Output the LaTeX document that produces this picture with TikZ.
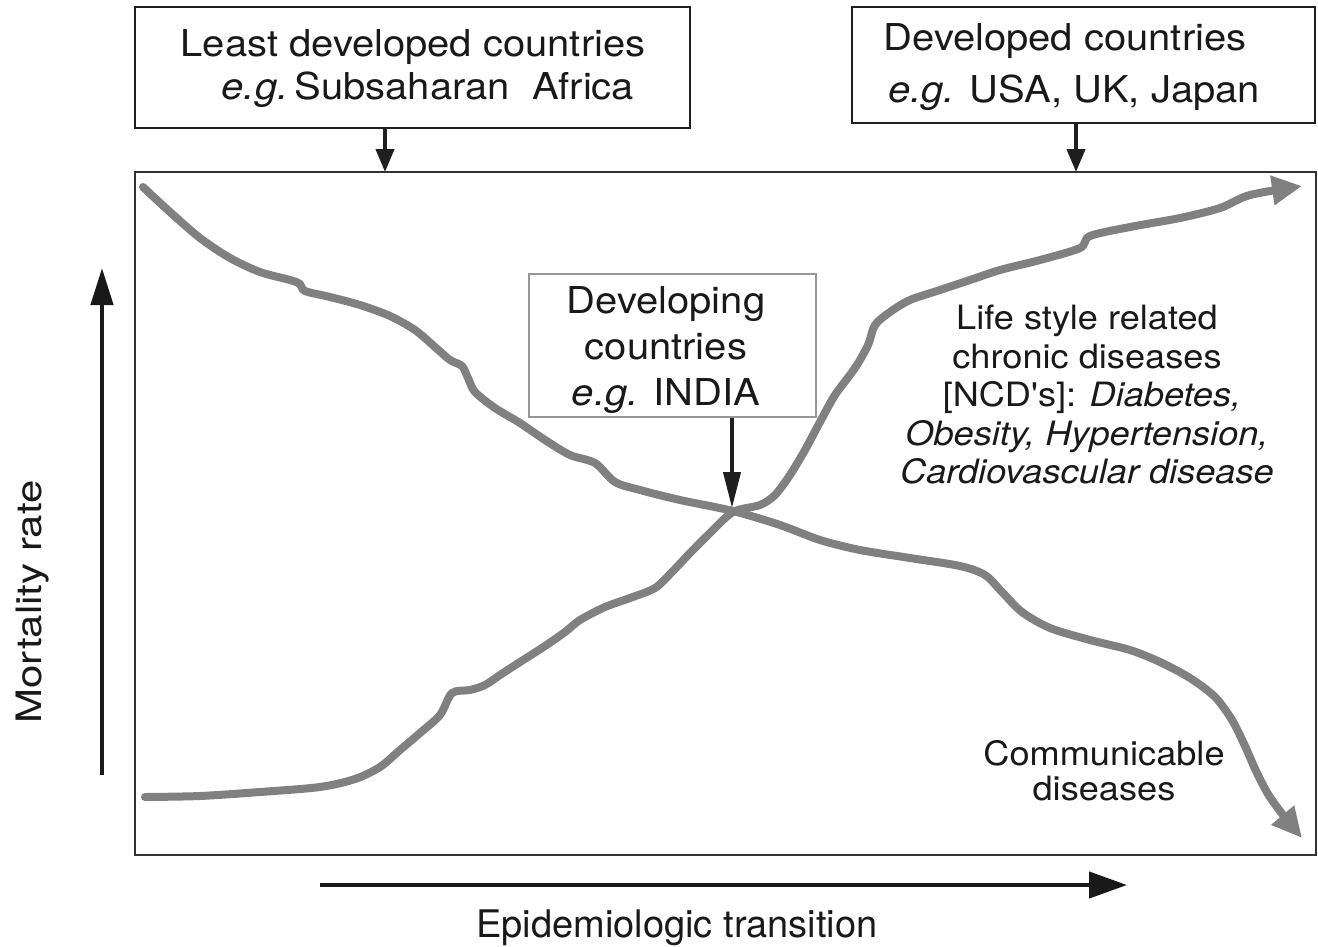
\documentclass[tikz,border=0pt]{standalone}
\usepackage{fontspec}
\setmainfont{TeX Gyre Heros}
\newfontfamily\wfont[FakeStretch=1.08]{TeX Gyre Heros}
\newfontfamily\mfont[FakeStretch=1.2]{TeX Gyre Heros}
\usetikzlibrary{arrows.meta}
\definecolor{curvegray}{RGB}{128,128,128}
\definecolor{framegray}{RGB}{50,50,50}
\definecolor{boxgray}{RGB}{150,150,150}
\begin{document}
\begin{tikzpicture}[x=1pt,y=-1pt,
  box/.style={draw=black!88, line width=1.8pt, inner sep=0pt},
  thinbox/.style={draw=boxgray, line width=1.3pt, inner sep=0pt},
  txt/.style={align=center, inner sep=0pt, text=black!90},
  curve/.style={draw=curvegray, line width=8pt, line cap=round, line join=round},
  ptr/.style={draw=black!88, line width=4pt, -{Triangle[length=23pt,width=18pt]}},
  longptr/.style={draw=black!88, line width=4pt, -{Triangle[length=36pt,width=17pt]}},
  axisv/.style={draw=black!90, line width=4.5pt, -{Triangle[length=37pt,width=22pt]}},
  axish/.style={draw=black!90, line width=4.5pt, -{Triangle[length=38pt,width=26pt]}},
]
\useasboundingbox (0,0) rectangle (1318,946);
\fill[white] (0,0) rectangle (1318,946);

% main frame
\node[draw=framegray, line width=2pt, minimum width=1181pt, minimum height=683pt, inner sep=0pt] (frame) at (725.5,513.5) {};

% top boxes
\node[box, minimum width=555pt, minimum height=121pt] (ldc) at (412.5,67.5) {};
\node[txt, anchor=north, font=\wfont\fontsize{37}{43}\selectfont] (ldct) at (413,29)
  {Least developed countries\\\hspace*{30pt}\textit{e.g.}\,Subsaharan\ \ Africa};

\node[box, minimum width=463pt, minimum height=116pt] (dc) at (1083.5,65) {};
\node[txt, anchor=north, font=\wfont\fontsize{37}{52}\selectfont] (dct) at (1065,23)
  {Developed countries\\\hspace*{18pt}\textit{e.g.} USA, UK, Japan};

\node[thinbox, minimum width=287pt, minimum height=143pt] (ing) at (672.5,345.5) {};
\node[txt, anchor=north, font=\wfont\fontsize{37}{46}\selectfont] (ingt) at (666,286)
  {Developing\\countries\\\textit{e.g.} INDIA};

% pointer arrows
\coordinate (ldctip) at (385,172);
\coordinate (dctip) at (1076,172);
\coordinate (cross) at (732,508);
\draw[ptr] (ldc.south -| ldctip) -- (ldctip);
\draw[ptr] (dc.south -| dctip) -- (dctip);
\draw[longptr] (ing.south -| cross) -- (cross);

% curves
\draw[curve, -{Triangle[length=30pt,width=28pt]}] plot[smooth, tension=0.5] coordinates {
 (143,187) (170,212) (200,238) (230,258) (260,272) (290,280) (300,284) (305,291)
 (330,297) (360,305) (390,316) (415,330) (435,347) (450,360) (462,366) (468,378)
 (475,392) (495,408) (520,423) (545,440) (570,455) (595,463) (615,482) (640,490)
 (680,500) (733,511) (780,525) (820,540) (860,550) (910,558) (960,566) (985,575)
 (1002,592) (1022,612) (1050,628) (1090,640) (1130,650) (1160,662) (1190,678)
 (1215,697) (1232,720) (1245,746) (1256,771) (1268,794) (1283,815) (1302,838)};

\draw[curve, -{Triangle[length=30pt,width=28pt]}] plot[smooth, tension=0.5] coordinates {
 (145,797) (200,796) (260,792) (320,787) (355,779) (380,767) (400,750) (420,733)
 (440,715) (452,693) (470,690) (485,685) (500,675) (520,662) (545,646) (565,632)
 (580,620) (605,607) (630,598) (655,588) (672,572) (690,553) (710,533) (733,512)
 (760,505) (775,495) (790,475) (805,450) (820,422) (835,395) (855,368) (868,345)
 (875,325) (890,312) (910,300) (940,290) (970,280) (1000,270) (1040,260) (1080,248)
 (1090,236) (1130,227) (1180,218) (1220,208) (1250,195) (1302,186)};

% curve labels
\node[txt, anchor=north, font=\wfont\fontsize{33.5}{38.5}\selectfont] (ncd) at (1087,305)
  {Life style related\\chronic diseases\\\ [NCD's]: \textit{Diabetes,}\\\textit{Obesity, Hypertension,}\\\textit{Cardiovascular disease}};
\node[txt, anchor=north, font=\wfont\fontsize{33.5}{35}\selectfont] (cd) at (1104,740)
  {Communicable\\diseases};

% axes
\coordinate (yb) at (102,775);
\coordinate (yt) at (102,268);
\draw[axisv] (yb) -- (yt);
\coordinate (xb) at (320,885);
\coordinate (xe) at (1127,885);
\draw[axish] (xb) -- (xe);

\node[txt, rotate=90, font=\mfont\fontsize{35}{40}\selectfont] (mort) at (33,602) {Mortality rate};
\node[txt, anchor=base, font=\fontsize{38}{44}\selectfont] (epi) at (677,937) {Epidemiologic transition};
\end{tikzpicture}
\end{document}
